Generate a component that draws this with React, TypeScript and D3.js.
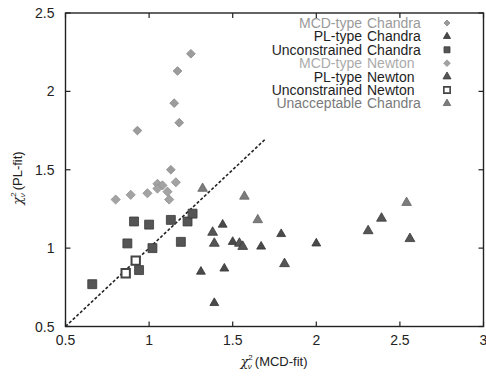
import * as d3 from 'd3';

type Pt = [number, number];

// MCD-fit chi2 (x) vs PL-fit chi2 (y)
const mcdChandra: Pt[] = [
  [1.25, 2.24], [1.17, 2.13], [1.15, 1.925], [1.18, 1.8], [0.93, 1.75], [1.13, 1.5],
];
const mcdNewton: Pt[] = [
  [1.16, 1.42], [1.05, 1.41], [1.08, 1.4], [1.05, 1.38], [1.11, 1.36], [1.12, 1.31],
  [0.99, 1.35], [0.89, 1.34], [0.8, 1.31],
];
const uncChandra: Pt[] = [
  [0.91, 1.17], [1.0, 1.15], [1.13, 1.18], [1.23, 1.17], [1.26, 1.22], [0.87, 1.03],
  [1.02, 1.0], [1.19, 1.04], [0.94, 0.86], [0.66, 0.77],
];
const uncNewton: Pt[] = [[0.92, 0.92], [0.86, 0.84]];
const plChandra: Pt[] = [
  [1.44, 1.15], [1.5, 1.04], [1.67, 1.01], [1.79, 1.09], [2.0, 1.03], [1.31, 0.85],
  [1.45, 0.87], [1.39, 0.65],
];
const plNewton: Pt[] = [
  [1.38, 1.1], [1.39, 1.03], [1.54, 1.03], [1.56, 1.01], [1.81, 0.9], [2.31, 1.11],
  [2.39, 1.19], [2.56, 1.06],
];
const unaccChandra: Pt[] = [[1.32, 1.38], [1.57, 1.33], [2.54, 1.29], [1.65, 1.18]];

const xTicks = [0.5, 1, 1.5, 2, 2.5, 3];
const yTicks = [0.5, 1, 1.5, 2, 2.5];
const diagonal: Pt[] = [[0.5, 0.5], [1.7, 1.7]];

const W = 486;
const H = 376;
const left = 65.5;
const right = 483.5;
const top = 13;
const bottom = 326.5;

const x = d3.scaleLinear().domain([0.5, 3]).range([left, right]);
const y = d3.scaleLinear().domain([0.5, 2.5]).range([bottom, top]);

const font = "'Liberation Sans', Arial, sans-serif";

const tri = (s: number) => d3.symbol().type(d3.symbolTriangle).size(s)() ?? '';
const sq = (s: number) => d3.symbol().type(d3.symbolSquare).size(s)() ?? '';

interface Series {
  pre: string;
  post: string;
  data: Pt[];
  textColor: string;
  shape: string;
  legendShape: string;
  rotate: boolean;
  fill: string;
  stroke: string;
}

const series: Series[] = [
  { pre: 'MCD-type', post: 'Chandra', data: mcdChandra, textColor: '#9a9a9a', shape: sq(38), legendShape: sq(18), rotate: true, fill: '#9c9c9c', stroke: '#8a8a8a' },
  { pre: 'PL-type', post: 'Chandra', data: plChandra, textColor: '#1e1e1e', shape: tri(34), legendShape: tri(22), rotate: false, fill: '#4a4a4a', stroke: '#333' },
  { pre: 'Unconstrained', post: 'Chandra', data: uncChandra, textColor: '#1e1e1e', shape: sq(80), legendShape: sq(36), rotate: false, fill: '#555', stroke: '#3a3a3a' },
  { pre: 'MCD-type', post: 'Newton', data: mcdNewton, textColor: '#ababab', shape: sq(42), legendShape: sq(22), rotate: true, fill: '#a3a3a3', stroke: '#929292' },
  { pre: 'PL-type', post: 'Newton', data: plNewton, textColor: '#1e1e1e', shape: tri(42), legendShape: tri(28), rotate: false, fill: '#555', stroke: '#3a3a3a' },
  { pre: 'Unconstrained', post: 'Newton', data: uncNewton, textColor: '#1e1e1e', shape: sq(70), legendShape: sq(40), rotate: false, fill: '#fff', stroke: '#444' },
  { pre: 'Unacceptable', post: 'Chandra', data: unaccChandra, textColor: '#7a7a7a', shape: tri(40), legendShape: tri(24), rotate: false, fill: '#7c7c7c', stroke: '#666' },
];

const line = d3.line<Pt>().x((d) => x(d[0])).y((d) => y(d[1]));

export default function App() {
  return (
    <svg
      width={W}
      height={H}
      style={{ position: 'absolute', left: 0, top: 0, background: '#fff' }}
      fontFamily={font}
    >
      <rect x={0} y={0} width={W} height={H} fill="#fff" />

      {/* diagonal */}
      <path d={line(diagonal) ?? ''} stroke="#222" strokeWidth={1.6} strokeDasharray="3 2" fill="none" />

      {/* points */}
      {series.map((s, i) => (
        <g key={i}>
          {s.data.map((d, j) => (
            <path
              key={j}
              d={s.shape}
              transform={`translate(${x(d[0])},${y(d[1])})${s.rotate ? ' rotate(45)' : ''}`}
              fill={s.fill}
              stroke={s.stroke}
              strokeWidth={s.fill === '#fff' ? 2 : 0.8}
            />
          ))}
        </g>
      ))}

      {/* frame */}
      <rect x={left} y={top} width={right - left} height={bottom - top} fill="none" stroke="#222" strokeWidth={1.4} />

      {/* ticks */}
      {xTicks.map((t) => (
        <g key={`x${t}`}>
          <line x1={x(t)} x2={x(t)} y1={bottom} y2={bottom - 5} stroke="#222" strokeWidth={1.2} />
          <line x1={x(t)} x2={x(t)} y1={top} y2={top + 5} stroke="#222" strokeWidth={1.2} />
          <text x={x(t)} y={bottom + 18} textAnchor="middle" fontSize={14} fill="#222">
            {t}
          </text>
        </g>
      ))}
      {yTicks.map((t) => (
        <g key={`y${t}`}>
          <line x1={left} x2={left + 5} y1={y(t)} y2={y(t)} stroke="#222" strokeWidth={1.2} />
          <line x1={right} x2={right - 5} y1={y(t)} y2={y(t)} stroke="#222" strokeWidth={1.2} />
          <text x={left - 11} y={y(t) + 5} textAnchor="end" fontSize={14} fill="#222">
            {t}
          </text>
        </g>
      ))}

      {/* axis titles */}
      <text x={274} y={366} textAnchor="middle" fontSize={13} fill="#222">
        <tspan fontStyle="italic" fontFamily="'DejaVu Serif', serif">χ</tspan>
        <tspan fontSize={8} dy={-6}>2</tspan>
        <tspan fontSize={8} dx={-5} dy={9} fontStyle="italic">ν</tspan>
        <tspan dy={-3} dx={3}>(MCD-fit)</tspan>
      </text>
      <text transform="translate(22,178) rotate(-90)" textAnchor="middle" fontSize={13} fill="#222">
        <tspan fontStyle="italic" fontFamily="'DejaVu Serif', serif">χ</tspan>
        <tspan fontSize={8} dy={-6}>2</tspan>
        <tspan fontSize={8} dx={-5} dy={9} fontStyle="italic">ν</tspan>
        <tspan dy={-3} dx={3}>(PL-fit)</tspan>
      </text>

      {/* legend */}
      {series.map((s, i) => {
        const ly = 23 + i * 13.4;
        return (
          <g key={`l${i}`}>
            <text x={362} y={ly + 5} textAnchor="end" fontSize={14} fill={s.textColor}>
              {s.pre}
            </text>
            <text x={367} y={ly + 5} fontSize={14} fill={s.textColor}>
              {s.post}
            </text>
            <path
              d={s.legendShape}
              transform={`translate(447,${ly})${s.rotate ? ' rotate(45)' : ''}`}
              fill={s.fill}
              stroke={s.stroke}
              strokeWidth={s.fill === '#fff' ? 1.6 : 0.8}
            />
          </g>
        );
      })}
    </svg>
  );
}
